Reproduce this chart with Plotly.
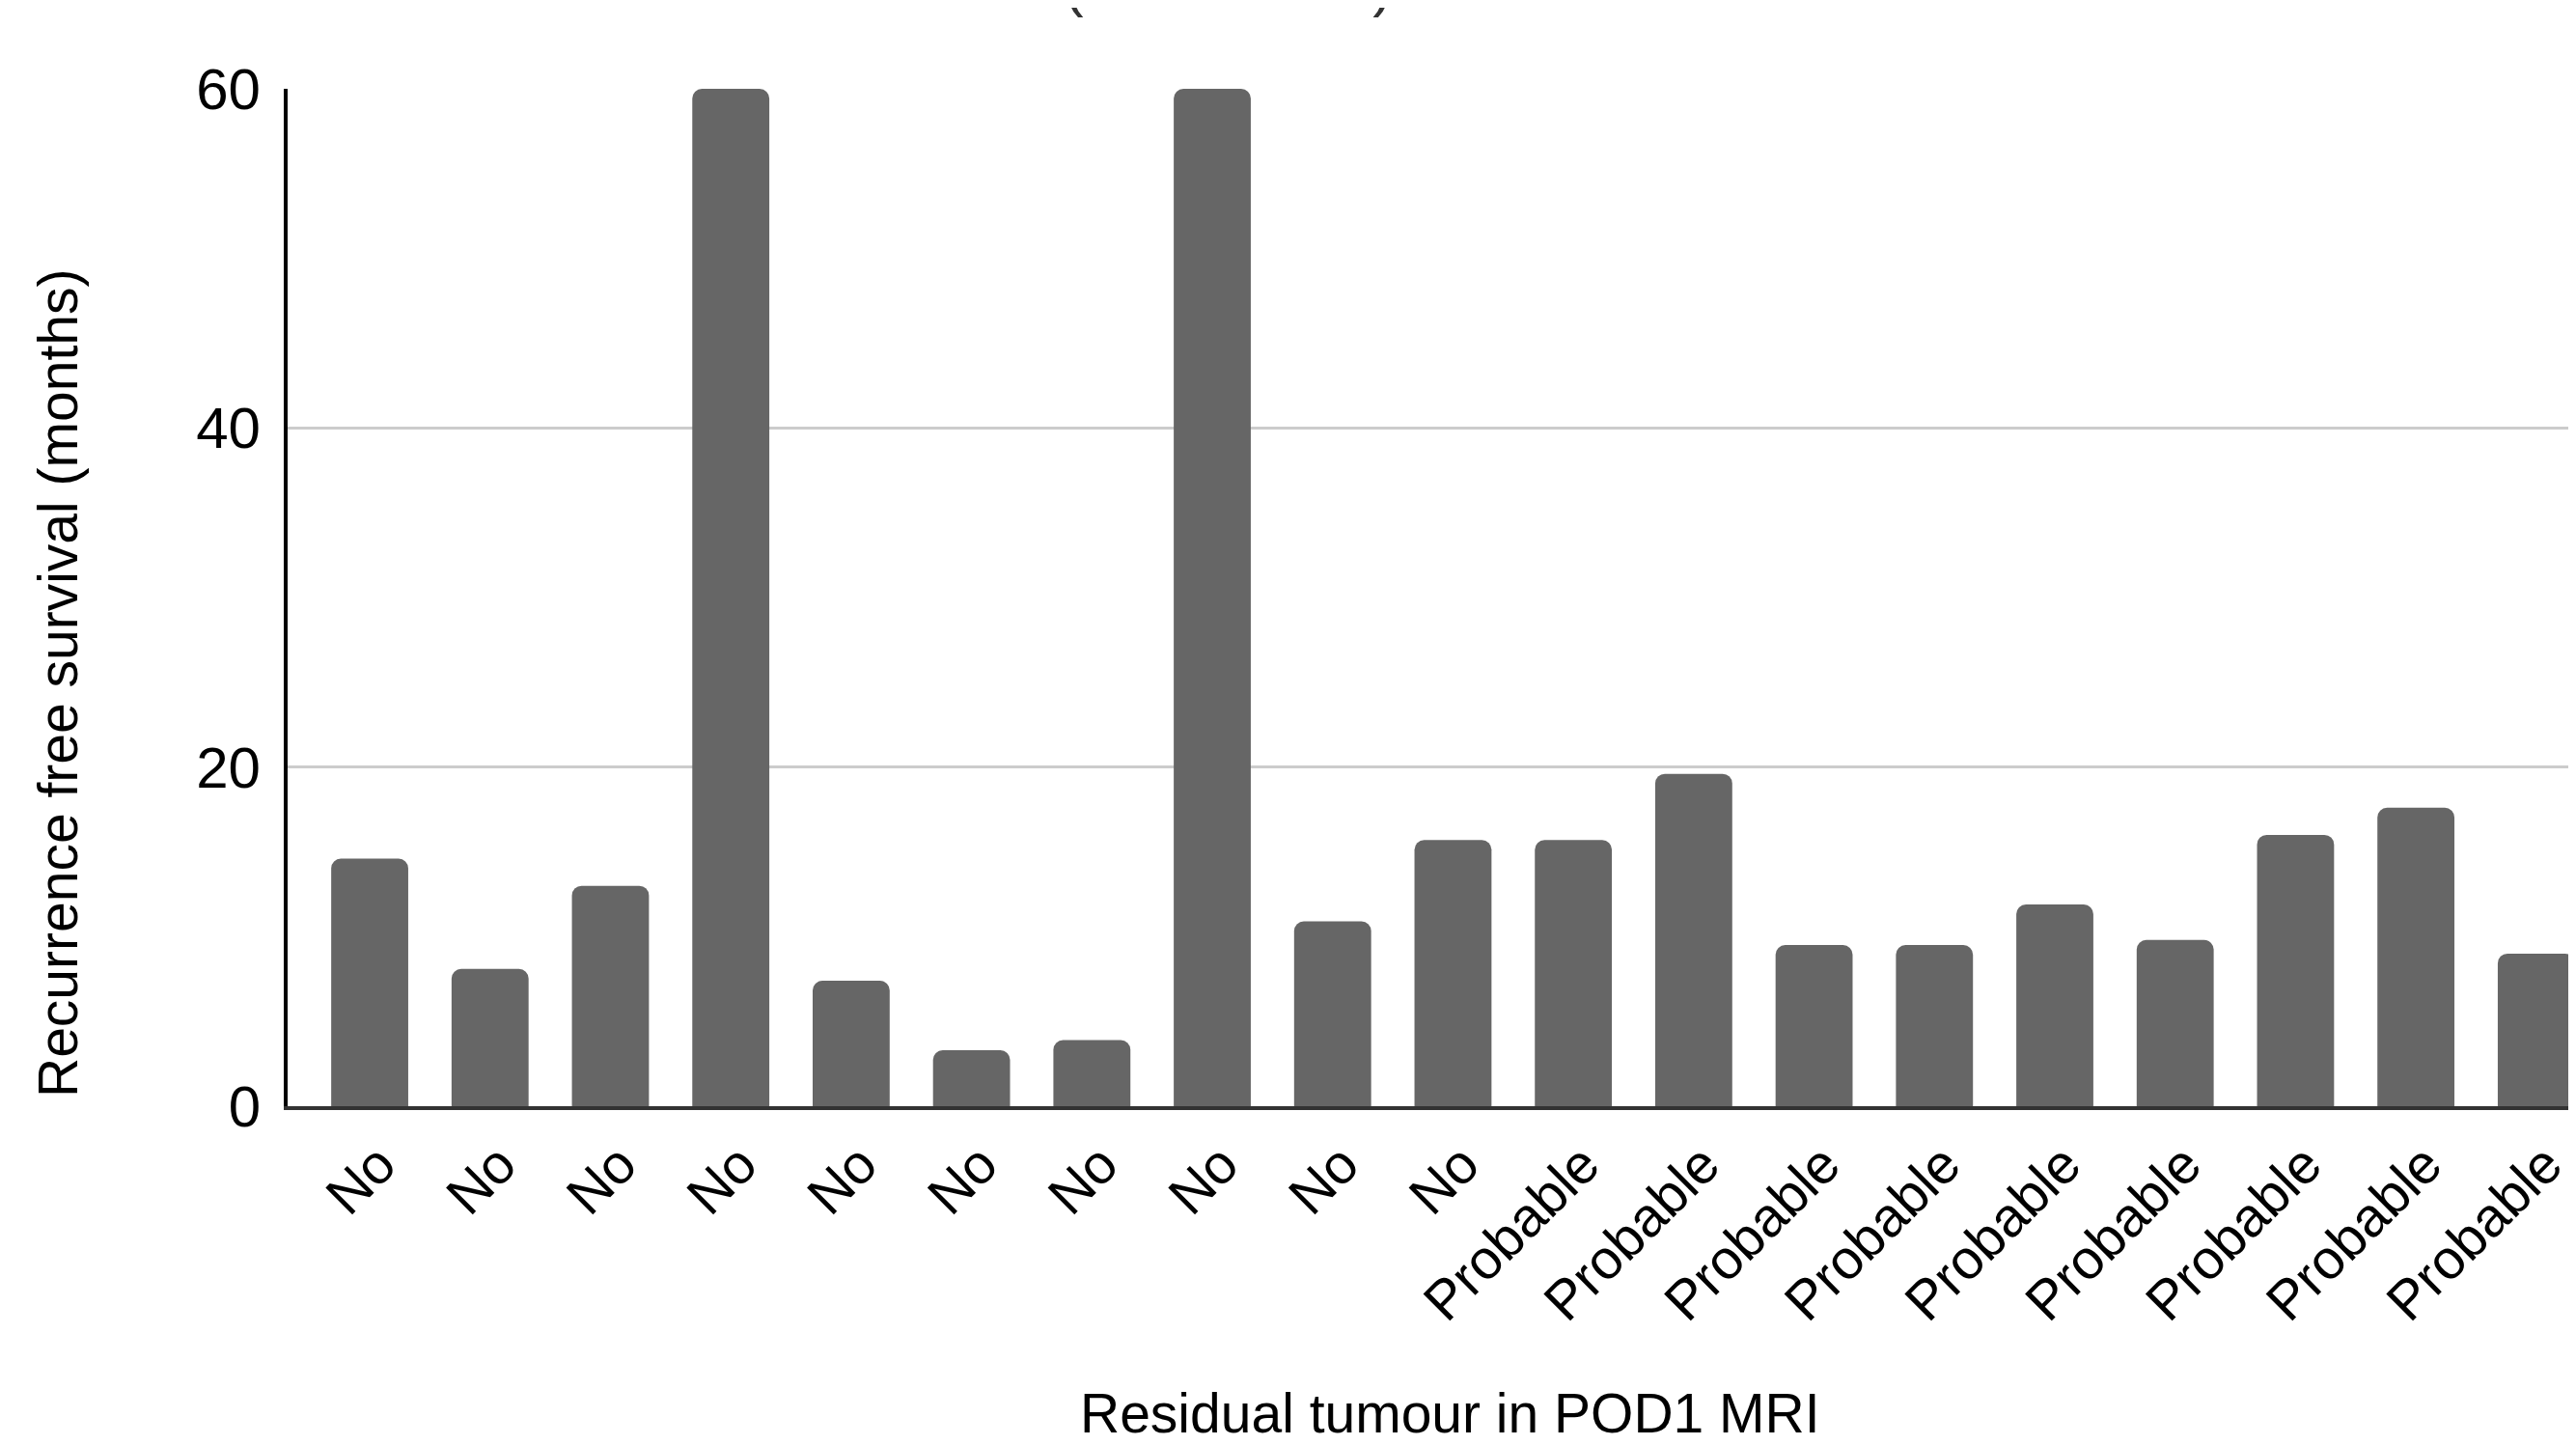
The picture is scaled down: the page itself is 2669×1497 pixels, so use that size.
import plotly.graph_objects as go

categories = ["No"] * 10 + ["Probable"] * 9
rfs_months = [14.6, 8.1, 13.0, 60.0, 7.4, 3.3, 3.9, 60.0, 10.9, 15.7,
              15.7, 19.6, 9.5, 9.5, 11.9, 9.8, 16.0, 17.6, 9.0]
y_ticks = [0, 20, 40, 60]
x_title = "Residual tumour in POD1 MRI"
y_title = "Recurrence free survival (months)"
chart_title_visible = "(POD1 MRI)"

x_idx = list(range(len(categories)))

FONT = "Liberation Sans, Arial, sans-serif"
# page body has an 8px margin, so the figure is made 8px smaller
W, H = 2661, 1489
ML, MR, MT, MB = 290, 0, 84, 351
PW = W - ML - MR
PH = H - MT - MB


def px(fx):
    return (fx - ML) / PW


def py(fy):
    return (H - MB - fy) / PH


fig = go.Figure(go.Bar(
    x=x_idx, y=rfs_months,
    marker=dict(color="#666666", cornerradius=10, line=dict(width=0)),
    width=0.64,
))

fig.update_layout(
    width=W, height=H,
    margin=dict(l=ML, r=MR, t=MT, b=MB, pad=0),
    plot_bgcolor="white", paper_bgcolor="white",
    font=dict(family=FONT, color="black", size=57),
    showlegend=False,
)

fig.update_xaxes(
    range=[-0.682, 18.33],
    tickmode="array", tickvals=x_idx, ticktext=categories,
    tickangle=-45, ticks="", showgrid=False,
    showline=True, linecolor="#333333", linewidth=4,
    tickfont=dict(size=57, family=FONT, color="black"),
    ticklabelstandoff=0, ticklabelshift=10,
    automargin=False, zeroline=False,
)
fig.update_yaxes(
    range=[0, 60], tickmode="array", tickvals=y_ticks,
    ticks="", showgrid=True, gridcolor="#cccccc", gridwidth=3,
    showline=True, linecolor="black", linewidth=4,
    tickfont=dict(size=60, family=FONT, color="black"),
    ticklabelstandoff=12,
    automargin=False, zeroline=False,
)

# Axis titles (placed as in the reference, slightly off-centre)
fig.add_annotation(
    text=x_title, xref="paper", yref="paper",
    x=px(1494), y=py(1456), xanchor="center", yanchor="middle",
    showarrow=False, font=dict(size=57, family=FONT, color="black"),
)
fig.add_annotation(
    text=y_title, xref="paper", yref="paper", textangle=-90,
    x=px(52), y=py(700), xanchor="center", yanchor="middle",
    showarrow=False, font=dict(size=57, family=FONT, color="black"),
)

# Chart title, mostly cropped at the top of the picture
fig.add_annotation(
    text=chart_title_visible, xref="paper", yref="paper",
    x=px(1092), y=py(12),
    xanchor="left", yanchor="bottom", showarrow=False,
    font=dict(size=62, family=FONT, color="#333333"),
)

fig.write_html("out.html")
